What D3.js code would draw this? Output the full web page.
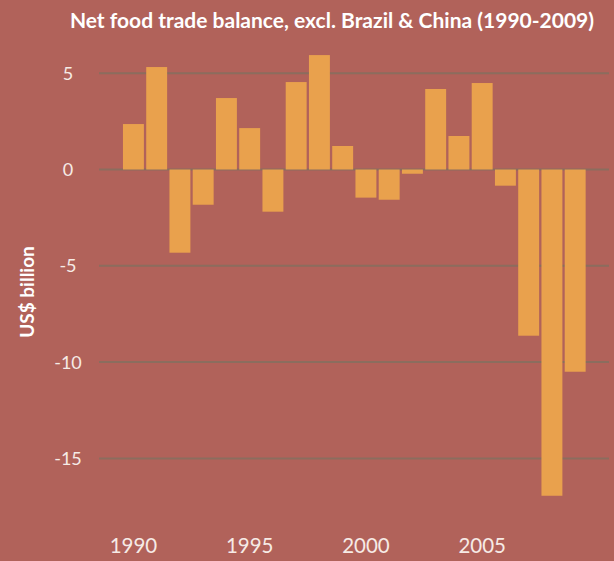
<!DOCTYPE html>
<html>
<head>
<meta charset="utf-8">
<script src="https://cdn.jsdelivr.net/npm/d3@7"></script>
<style>
  body { margin: 0; background: #b1625a; }
  svg { display: block; }
</style>
</head>
<body>
<script>
// data
const years = d3.range(1990, 2010);
const balance = [2.36, 5.32, -4.32, -1.83, 3.71, 2.15, -2.19, 4.54, 5.94, 1.22,
                 -1.46, -1.57, -0.22, 4.18, 1.74, 4.49, -0.84, -8.63, -16.94, -10.5];
const yTicks = [5, 0, -5, -10, -15];
const xTickYears = [1990, 1995, 2000, 2005];

const width = 614, height = 561;

const svg = d3.select("body").append("svg")
    .attr("width", width)
    .attr("height", height);

svg.append("rect")
    .attr("width", width)
    .attr("height", height)
    .attr("fill", "#b1625a");

// scales
const x = d3.scaleBand()
    .domain(years)
    .range([121.8, 586.8])
    .paddingInner(0.1)
    .paddingOuter(0.05);

const y = d3.scaleLinear()
    .domain([-15, 5])
    .range([458.4, 73.2]);

// gridlines
svg.append("g")
    .selectAll("line")
    .data(yTicks)
    .join("line")
    .attr("x1", 99)
    .attr("x2", 609)
    .attr("y1", d => y(d))
    .attr("y2", d => y(d))
    .attr("stroke", "#8b6d5e")
    .attr("stroke-width", 2);

// y labels
svg.append("g")
    .selectAll("text")
    .data(yTicks)
    .join("text")
    .attr("x", 68)
    .attr("y", d => y(d))
    .attr("dy", "0.36em")
    .attr("text-anchor", "middle")
    .attr("font-family", "Lato, sans-serif")
    .attr("font-size", 18)
    .attr("fill", "#f6ebe6")
    .text(d => d);

// bars
svg.append("g")
    .selectAll("rect")
    .data(years)
    .join("rect")
    .attr("x", d => x(d))
    .attr("width", x.bandwidth())
    .attr("y", (d, i) => y(Math.max(0, balance[i])))
    .attr("height", (d, i) => Math.abs(y(balance[i]) - y(0)))
    .attr("fill", "#e9a14d");

// x labels
svg.append("g")
    .selectAll("text")
    .data(xTickYears)
    .join("text")
    .attr("x", d => x(d) + x.bandwidth() / 2)
    .attr("y", 553)
    .attr("text-anchor", "middle")
    .attr("font-family", "Lato, sans-serif")
    .attr("font-size", 20.5)
    .attr("fill", "#f6ebe6")
    .text(d => d);

// titles
svg.append("text")
    .attr("x", 332)
    .attr("y", 28)
    .attr("text-anchor", "middle")
    .attr("font-family", "Lato, sans-serif")
    .attr("font-weight", "bold")
    .attr("font-size", 21)
    .attr("fill", "#ffffff")
    .text("Net food trade balance, excl. Brazil & China (1990-2009)");

svg.append("text")
    .attr("transform", "translate(34,292) rotate(-90)")
    .attr("text-anchor", "middle")
    .attr("font-family", "Lato, sans-serif")
    .attr("font-weight", "bold")
    .attr("font-size", 19)
    .attr("fill", "#ffffff")
    .text("US$ billion");
</script>
</body>
</html>
